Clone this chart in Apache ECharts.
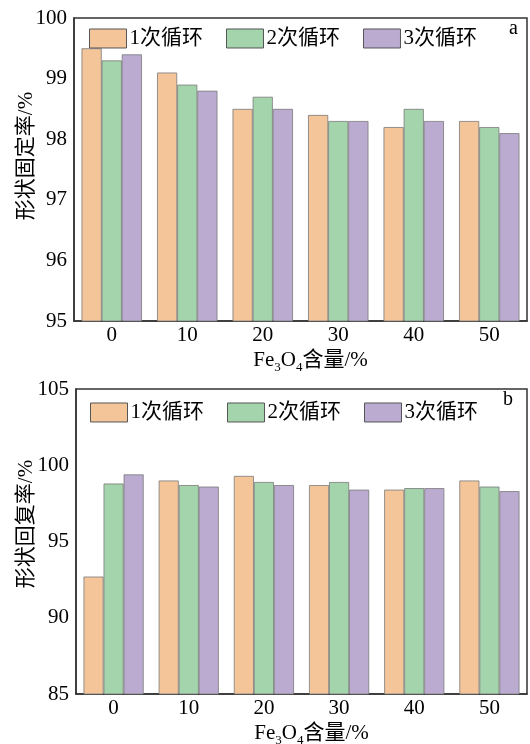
<!DOCTYPE html>
<html><head><meta charset="utf-8">
<script src="https://cdn.jsdelivr.net/npm/echarts@6/dist/echarts.min.js"></script>
<style>html,body{margin:0;padding:0;background:#fff}#c{width:530px;height:744px}</style>
</head><body><div id="c"></div>
<script>
const categories = ['0', '10', '20', '30', '40', '50'];
const seriesNames = ['1次循环', '2次循环', '3次循环'];
// Shape fixity ratio (a)
const fixity1 = [99.5, 99.1, 98.5, 98.4, 98.2, 98.3];
const fixity2 = [99.3, 98.9, 98.7, 98.3, 98.5, 98.2];
const fixity3 = [99.4, 98.8, 98.5, 98.3, 98.3, 98.1];
// Shape recovery ratio (b)
const recovery1 = [92.7, 99.0, 99.3, 98.7, 98.4, 99.0];
const recovery2 = [98.8, 98.7, 98.9, 98.9, 98.5, 98.6];
const recovery3 = [99.4, 98.6, 98.7, 98.4, 98.5, 98.3];

const colors = ['#F5C59A', '#A3D4AC', '#BBABD1'];
const serif = '"Liberation Serif", "Times New Roman", "Noto Sans CJK SC", serif';
const axisColor = '#333';
const FS = 21;

const chart = echarts.init(document.getElementById('c'), null, {renderer: 'canvas'});

function xAxisCfg(gi) {
  return {
    type: 'category', gridIndex: gi, data: categories,
    axisLine: {lineStyle: {color: axisColor, width: 1.5}},
    axisTick: {show: false},
    axisLabel: {color: '#000', fontFamily: serif, fontSize: FS, margin: 4},
    name: '{a|Fe}{s|3}{a|O}{s|4}{a|含量/%}',
    nameLocation: 'middle', nameGap: 26,
    nameTextStyle: {
      padding: [0, 0, 0, 20],
      rich: {
        a: {fontFamily: serif, fontSize: FS, color: '#000', verticalAlign: 'bottom', lineHeight: 24},
        s: {fontFamily: serif, fontSize: 13, color: '#000', verticalAlign: 'bottom', lineHeight: 24, padding: [0, 0, -3, 0]}
      }
    }
  };
}
function yAxisCfg(gi, min, max, interval) {
  return {
    type: 'value', gridIndex: gi, min: min, max: max, interval: interval,
    axisLine: {show: true, lineStyle: {color: axisColor, width: 1.5}},
    axisTick: {show: false},
    splitLine: {show: false},
    axisLabel: {color: '#000', fontFamily: serif, fontSize: FS, margin: 7}
  };
}
function barSeries(name, data, ci, gi) {
  return {
    name: name, type: 'bar', xAxisIndex: gi, yAxisIndex: gi, data: data,
    barGap: '0%', barCategoryGap: '20%',
    itemStyle: {color: colors[ci], borderColor: '#7a7a7a', borderWidth: 0.8},
    emphasis: {disabled: true}
  };
}
function legendCfg(left, top) {
  return {
    left: left, top: top, itemWidth: 37, itemHeight: 19, itemGap: 23, icon: 'rect',
    data: seriesNames.map((n, i) => ({name: n, itemStyle: {color: colors[i], borderColor: '#555', borderWidth: 1}})),
    textStyle: {color: '#000', fontFamily: serif, fontSize: FS, padding: [0, 0, 0, -2]},
    selectedMode: false
  };
}

chart.setOption({
  animation: false,
  backgroundColor: '#fff',
  grid: [
    {left: 74, top: 18, width: 453, height: 303, show: true, borderColor: axisColor, borderWidth: 1.5, outerBoundsMode: 'none', containLabel: false},
    {left: 76, top: 389, width: 451, height: 305, show: true, borderColor: axisColor, borderWidth: 1.5, outerBoundsMode: 'none', containLabel: false}
  ],
  legend: [legendCfg(84, 23), legendCfg(85, 397)],
  xAxis: [xAxisCfg(0), xAxisCfg(1)],
  yAxis: [yAxisCfg(0, 95, 100, 1), yAxisCfg(1, 85, 105, 5)],
  graphic: [
    {type: 'text', x: 26, y: 156, rotation: Math.PI / 2,
     style: {text: '形状固定率/%', fontFamily: serif, fontSize: FS, fill: '#000', align: 'center', verticalAlign: 'middle'}},
    {type: 'text', x: 26, y: 524, rotation: Math.PI / 2,
     style: {text: '形状回复率/%', fontFamily: serif, fontSize: FS, fill: '#000', align: 'center', verticalAlign: 'middle'}},
    {type: 'text', left: 509, top: 19, style: {text: 'a', fontFamily: serif, fontSize: 20, fill: '#000'}},
    {type: 'text', left: 503, top: 390, style: {text: 'b', fontFamily: serif, fontSize: 20, fill: '#000'}}
  ],
  series: [
    barSeries(seriesNames[0], fixity1, 0, 0),
    barSeries(seriesNames[1], fixity2, 1, 0),
    barSeries(seriesNames[2], fixity3, 2, 0),
    barSeries(seriesNames[0], recovery1, 0, 1),
    barSeries(seriesNames[1], recovery2, 1, 1),
    barSeries(seriesNames[2], recovery3, 2, 1)
  ]
});
</script></body></html>
